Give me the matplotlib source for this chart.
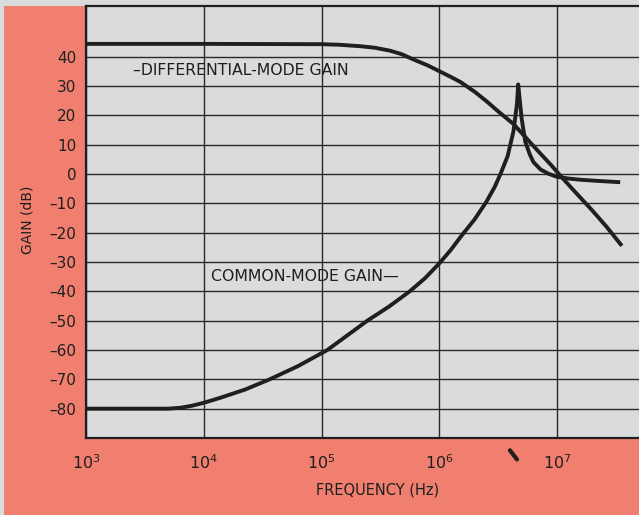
import matplotlib
matplotlib.use('Agg')
import matplotlib.pyplot as plt
import numpy as np
from matplotlib.patches import Rectangle

plt.rcParams['font.family'] = ['DejaVu Sans']
plt.rcParams['mathtext.default'] = 'regular'

SALMON = '#f07f6f'
PAPER = '#d9dbdc'
INK = '#1f1f1f'

# differential-mode gain, log10(f) vs dB
dm_logf = [3.0, 4.0, 5.0, 5.15, 5.33, 5.45, 5.58, 5.68, 5.78, 5.9, 6.0, 6.1, 6.18,
           6.3, 6.4, 6.5, 6.63, 6.75, 6.85, 6.95, 7.03, 7.15, 7.3, 7.42, 7.54]
dm_gain = [44.3, 44.3, 44.2, 44.0, 43.5, 43.0, 42.0, 40.8, 39.0, 37.0, 35.0, 33.0,
           31.3, 28.0, 24.8, 21.3, 17.0, 11.7, 7.3, 3.0, -0.7, -6.0, -12.5, -18.0,
           -24.0]

# common-mode gain, log10(f) vs dB
cm_logf = [3.0, 3.7, 3.8, 3.9, 4.0, 4.14, 4.35, 4.56, 4.8, 5.05, 5.22, 5.39, 5.57,
           5.75, 5.88, 6.0, 6.1, 6.19, 6.3, 6.4, 6.47, 6.52, 6.58, 6.63, 6.66,
           6.67, 6.70, 6.73, 6.77, 6.80, 6.86, 6.93, 7.0, 7.1, 7.2, 7.35, 7.52]
cm_gain = [-80.0, -80.0, -79.7, -79.0, -78.0, -76.3, -73.5, -70.0, -65.5, -60.0,
           -55.0, -50.0, -45.3, -40.0, -35.5, -30.5, -25.8, -21.0, -15.5, -9.5,
           -4.5, 0.0, 6.0, 14.5, 24.0, 30.5, 18.7, 11.0, 6.5, 4.0, 1.5, 0.0, -1.0,
           -1.6, -2.0, -2.4, -2.8]

y_ticks = [40, 30, 20, 10, 0, -10, -20, -30, -40, -50, -60, -70, -80]
x_decades = [3, 4, 5, 6, 7]

fig = plt.figure(figsize=(6.39, 5.15), dpi=100, facecolor=PAPER)
fig.patches.append(Rectangle((0.006, 0), 1, 0.988, transform=fig.transFigure,
                             facecolor=SALMON, edgecolor='none', zorder=-10))

ax = fig.add_axes([0.1346, 0.1495, 0.8654, 0.8388])
ax.set_facecolor(PAPER)
ax.set_xscale('log')
ax.set_xlim(1e3, 10 ** 7.696)
ax.set_ylim(-90, 57.2)

ax.set_yticks(y_ticks)
ax.set_yticklabels([str(v).replace('-', '\u2013') for v in y_ticks])
ax.set_xticks([10.0 ** d for d in x_decades])
ax.set_xticklabels([r'$10^{%d}$' % d for d in x_decades])
ax.minorticks_off()
ax.tick_params(axis='both', length=0, colors=INK)
ax.tick_params(axis='y', pad=7, labelsize=11)
ax.tick_params(axis='x', pad=11, labelsize=11.5)

ax.grid(True, color='#2a2a2a', linewidth=1.0)
ax.set_axisbelow(True)
for side in ['left', 'top', 'bottom']:
    ax.spines[side].set_linewidth(1.6)
    ax.spines[side].set_color(INK)
ax.spines['right'].set_visible(False)

ax.plot(10.0 ** np.array(dm_logf), dm_gain, color=INK, linewidth=2.8,
        solid_joinstyle='round', zorder=3)
ax.plot(10.0 ** np.array(cm_logf), cm_gain, color=INK, linewidth=2.8,
        solid_joinstyle='round', zorder=3)

ax.text(10 ** 3.40, 35.4, '\u2013DIFFERENTIAL-MODE GAIN', fontsize=11.3,
        color=INK, va='center', ha='left')
ax.text(10 ** 4.06, -35.0, 'COMMON-MODE GAIN\u2014', fontsize=11.3,
        color=INK, va='center', ha='left')

# small resonance tick under the axis
ax.plot([10 ** 6.60, 10 ** 6.66], [-94.2, -97.3], color=INK, linewidth=3,
        solid_capstyle='round', clip_on=False)

ax.set_xlabel('FREQUENCY (Hz)', fontsize=10.5, color=INK)
ax.set_ylabel('GAIN (dB)', fontsize=10, color=INK)
ax.xaxis.set_label_coords(0.528, -0.104)
ax.yaxis.set_label_coords(-0.094, 0.505)

fig.savefig('out.png', dpi=100, facecolor=fig.get_facecolor())
